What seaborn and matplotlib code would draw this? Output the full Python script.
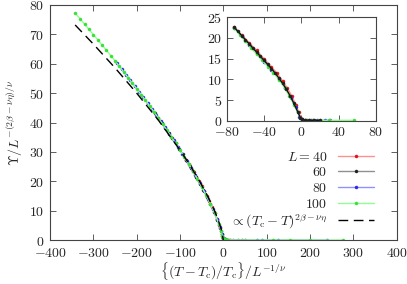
import numpy as np
import pandas as pd
import seaborn as sns
from matplotlib import pyplot as plt
from matplotlib.ticker import FuncFormatter, MultipleLocator

# main panel: scaled data for each system size
x_40 = [-86, -80, -74, -68, -62, -56, -50, -44, -38, -32, -26, -20, -14, -9, -5, -2, 0, 3, 15, 22]
y_40 = [27.4, 26.0, 24.6, 23.2, 21.6, 20.0, 18.4, 16.7, 15.0, 13.2, 11.2, 9.3, 7.1, 5.0, 3.0, 1.3, 0.6, 0.2, 0.0, 0.0]

x_60 = [-158, -150, -142, -134, -126, -118, -110, -102, -94, -86, -78, -70, -62, -54, -46, -38, -30, -22, -14, -7, -3, 0, 4, 34, 43, 50]
y_60 = [43.2, 41.5, 39.8, 38.1, 36.4, 34.7, 32.9, 31.1, 29.2, 27.2, 25.3, 23.4, 21.3, 19.2, 17.0, 14.7, 12.3, 9.7, 6.9, 4.0, 1.9, 0.8, 0.3, 0.0, 0.0, 0.0]

x_80 = [-245, -235, -225, -215, -205, -195, -185, -175, -165, -155, -145, -135, -125, -115, -105, -95, -85, -75, -65, -55, -45, -35, -25, -15, -8, -3, 0, 4, 8, 77, 89, 126, 239]
y_80 = [60.1, 58.2, 56.3, 54.4, 52.5, 50.5, 48.6, 46.6, 44.6, 42.6, 40.5, 38.4, 36.2, 34.0, 31.8, 29.4, 27.0, 24.6, 22.1, 19.5, 16.7, 13.8, 10.7, 7.3, 4.4, 1.9, 0.7, 0.2, 0.05, 0.0, 0.0, 0.0, 0.0]

x_100 = [-342, -330, -320, -310, -300, -290, -280, -270, -260, -250, -240, -230, -220, -210, -200, -190, -180, -170, -160, -150, -140, -130, -120, -110, -100, -90, -80, -70, -60, -50, -40, -30, -20, -10, -5, -2, 0, 3, 6, 10, 115, 154, 200, 276]
y_100 = [77.2, 75.2, 73.4, 71.7, 69.9, 68.2, 66.4, 64.6, 62.8, 61.0, 59.1, 57.2, 55.3, 53.4, 51.5, 49.5, 47.6, 45.6, 43.6, 41.5, 39.4, 37.3, 35.1, 32.9, 30.6, 28.2, 25.8, 23.4, 20.8, 18.1, 15.3, 12.3, 9.1, 5.3, 2.9, 1.3, 0.6, 0.2, 0.1, 0.0, 0.0, 0.0, 0.0, 0.0]

# power-law guide
x_fit = [-342, -300, -250, -200, -150, -100, -80, -60, -40, -20, -10, -5, 0]
y_fit = [73.2, 66.7, 58.6, 50.0, 40.8, 30.6, 26.1, 21.3, 16.0, 9.8, 6.0, 3.6, 0.0]

# inset data
xi_40 = [-72, -64, -56, -48, -40, -32, -26, -20, -15, -10, -6, -3, -1, 1, 4, 8, 12]
yi_40 = [22.7, 20.8, 18.9, 17.0, 15.0, 13.0, 11.5, 9.6, 7.9, 5.9, 3.9, 2.2, 0.9, 0.3, 0.2, 0.1, 0.1]
xi_60 = [-72, -68, -64, -60, -56, -52, -48, -44, -40, -36, -32, -28, -24, -20, -16, -12, -8, -4, -1, 1, 4, 8, 14, 20]
yi_60 = [22.6, 21.6, 20.6, 19.6, 18.6, 17.6, 16.6, 15.6, 14.6, 13.6, 12.6, 11.5, 10.3, 9.0, 7.6, 6.0, 4.2, 2.2, 0.7, 0.3, 0.2, 0.1, 0.1, 0.1]
xi_80 = [-72, -64, -56, -48, -40, -32, -24, -17, -11, -6, -2, 1, 5, 10, 17, 25, 31]
yi_80 = [22.5, 20.5, 18.4, 16.3, 14.3, 12.3, 10.1, 7.8, 5.5, 3.2, 1.0, 0.3, 0.1, 0.1, 0.1, 0.1, 0.1]
xi_100 = [-72, -66, -60, -54, -48, -42, -36, -30, -24, -18, -13, -8, -4, -1, 2, 6, 12, 20, 30, 56]
yi_100 = [22.4, 20.7, 19.2, 17.6, 16.1, 14.6, 13.1, 11.6, 9.9, 7.9, 6.0, 3.9, 2.0, 0.6, 0.2, 0.1, 0.1, 0.1, 0.1, 0.1]

sizes = ["40", "60", "80", "100"]
line_colors = ["#ff9090", "#909090", "#9090ff", "#90ff90"]
mark_colors = ["#e81010", "#202020", "#2828f0", "#38e038"]

sns.set_style("ticks")
plt.rcParams["font.family"] = ["DejaVu Serif"]
plt.rcParams["mathtext.fontset"] = "cm"
plt.rcParams["xtick.direction"] = "in"
plt.rcParams["ytick.direction"] = "in"

FS = 10

fig = plt.figure(figsize=(4.07, 2.84), dpi=100)
ax = fig.add_axes([0.1229, 0.1549, 0.8518, 0.8275])

main_sets = [(x_40, y_40), (x_60, y_60), (x_80, y_80), (x_100, y_100)]
for i, (xs, ys) in enumerate(main_sets):
    lab = "$L=40$" if i == 0 else "$%s$" % sizes[i]
    sns.lineplot(x=xs, y=ys, ax=ax, color=line_colors[i], linewidth=1.0,
                 marker="o", markersize=2.2, markerfacecolor=mark_colors[i],
                 markeredgecolor=mark_colors[i], markeredgewidth=0.3,
                 label=lab, estimator=None, sort=False)
sns.lineplot(x=x_fit, y=y_fit, ax=ax, color="black", linewidth=1.0,
             dashes=False, label=r"$\propto (T_{\rm c}-T)^{2\beta-\nu\eta}$",
             estimator=None, sort=False)
ax.lines[-1].set_dashes([7, 4])

fmt = FuncFormatter(lambda v, p: "$%g$" % v)
ax.set_xlim(-400, 400)
ax.set_ylim(0, 80)
ax.xaxis.set_major_locator(MultipleLocator(100))
ax.yaxis.set_major_locator(MultipleLocator(10))
ax.xaxis.set_major_formatter(fmt)
ax.yaxis.set_major_formatter(fmt)
ax.tick_params(top=True, right=True, length=4, width=0.6, labelsize=FS, color="#444444", pad=4)
for s in ax.spines.values():
    s.set_color("#444444")
    s.set_linewidth(0.8)
ax.set_xlabel(r"$\{(T-T_{\rm c})/T_{\rm c}\}/L^{-1/\nu}$", fontsize=FS, labelpad=1)
ax.set_ylabel(r"$\Upsilon/L^{-(2\beta-\nu\eta)/\nu}$", fontsize=FS, labelpad=3)

leg = ax.legend(loc="lower right", bbox_to_anchor=(0.935, 0.04), markerfirst=False,
                frameon=False, fontsize=FS, handlelength=2.6, labelspacing=0.12,
                handletextpad=0.8, borderaxespad=0, borderpad=0)
for t in leg.get_texts():
    t.set_ha("right")
leg._legend_box.align = "right"
for h in leg.get_lines()[-1:]:
    h.set_dashes([7, 4])

# inset
axi = fig.add_axes([0.557, 0.575, 0.3668, 0.364])
inset_sets = [(xi_40, yi_40, 0), (xi_80, yi_80, 2), (xi_100, yi_100, 3), (xi_60, yi_60, 1)]
for xs, ys, k in inset_sets:
    sns.lineplot(x=xs, y=ys, ax=axi, color=line_colors[k] if k != 1 else "#101010",
                 linewidth=1.0, marker="o", markersize=2.2,
                 markerfacecolor=mark_colors[k], markeredgecolor=mark_colors[k],
                 markeredgewidth=0.3, estimator=None, sort=False, legend=False)
axi.set_xlim(-80, 80)
axi.set_ylim(0, 25)
axi.xaxis.set_major_locator(MultipleLocator(40))
axi.yaxis.set_major_locator(MultipleLocator(5))
axi.xaxis.set_major_formatter(fmt)
axi.yaxis.set_major_formatter(fmt)
axi.tick_params(top=True, right=True, length=4, width=0.6, labelsize=FS, color="#444444", pad=3)
for s in axi.spines.values():
    s.set_color("#444444")
    s.set_linewidth(0.8)

fig.savefig("out.png", dpi=100)
